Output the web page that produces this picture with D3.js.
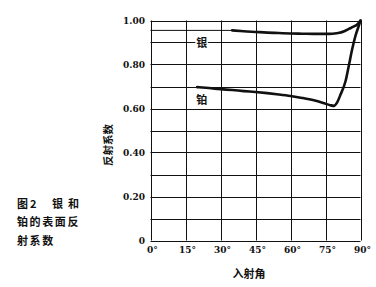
<!DOCTYPE html>
<html>
<head>
<meta charset="utf-8">
<script src="https://cdn.jsdelivr.net/npm/d3@7"></script>
<style>
  body { margin: 0; background: #fff; }
  svg { display: block; }
  .num { font-family: "DejaVu Serif", serif; font-weight: bold; font-size: 9px; fill: #111; }
  .cjk { font-family: "Noto Sans CJK SC", sans-serif; font-weight: bold; fill: #111; }
</style>
</head>
<body>
<svg id="chart" width="376" height="287"></svg>
<script>
// Angle ticks (degrees) and reflection-coefficient ticks
const angleTicks = [0, 15, 30, 45, 60, 75, 90]
const valueTicks = [0, 0.2, 0.4, 0.6, 0.8, 1.0]
const gridValues = [0.1, 0.2, 0.3, 0.4, 0.5, 0.6, 0.7, 0.8, 0.9]

// Silver (银): thin lead-in from 0° then the measured curve
const silverAngles = [0, 35, 40, 45, 50, 55, 60, 65, 70, 75, 78, 81, 83, 85, 87, 88.6, 90]
const silverValues = [0.955, 0.955, 0.951, 0.948, 0.945, 0.943, 0.941, 0.94, 0.939, 0.939, 0.94, 0.944, 0.951, 0.962, 0.972, 0.982, 1.0]

// Platinum (铂)
const platinumAngles = [20, 25, 30, 35, 40, 45, 50, 55, 60, 65, 70, 74, 77, 78.6, 80, 81.4, 83.6, 85, 86.4, 87.9, 89.3, 90]
const platinumValues = [0.697, 0.693, 0.688, 0.684, 0.679, 0.675, 0.67, 0.664, 0.657, 0.648, 0.637, 0.625, 0.615, 0.612, 0.628, 0.662, 0.725, 0.795, 0.868, 0.932, 0.977, 1.0]

// Caption rows
const captionRows = ["图2银和", "铂的表面反", "射系数"]

let svg = d3.select("#chart")

let x = d3.scaleLinear().domain([0, 90]).range([150.5, 360.5])
let y = d3.scaleLinear().domain([0, 1]).range([240.5, 20.5])

// Grid
let grid = svg.append("g")
  .attr("stroke", "#111")
  .attr("stroke-width", 1)
  .attr("fill", "none")

grid.selectAll("line.h")
  .data(gridValues.concat([0, 1]))
  .join("line")
  .attr("class", "h")
  .attr("x1", x(0)).attr("x2", x(90))
  .attr("y1", d => Math.round(y(d)) + 0.5)
  .attr("y2", d => Math.round(y(d)) + 0.5)

grid.selectAll("line.v")
  .data(angleTicks)
  .join("line")
  .attr("class", "v")
  .attr("y1", y(0)).attr("y2", y(1))
  .attr("x1", d => Math.round(x(d)) + 0.5)
  .attr("x2", d => Math.round(x(d)) + 0.5)

// Curves
let line = d3.line()
  .x(d => x(d[0]))
  .y(d => y(d[1]))
  .curve(d3.curveMonotoneX)

let silver = silverAngles.map((a, i) => [a, silverValues[i]])
let platinum = platinumAngles.map((a, i) => [a, platinumValues[i]])

svg.append("path")
  .datum(silver.filter(d => d[0] <= 35))
  .attr("d", line)
  .attr("fill", "none")
  .attr("stroke", "#111")
  .attr("stroke-width", 1)

svg.selectAll("path.curve")
  .data([silver.filter(d => d[0] >= 35), platinum])
  .join("path")
  .attr("class", "curve")
  .attr("d", line)
  .attr("fill", "none")
  .attr("stroke", "#111")
  .attr("stroke-width", 2.6)
  .attr("stroke-linejoin", "round")
  .attr("stroke-linecap", "round")

// Series labels
svg.selectAll("text.series")
  .data([["银", 0.9], ["铂", 0.64]])
  .join("text")
  .attr("class", "series cjk")
  .attr("x", x(22))
  .attr("y", d => y(d[1]) + 4)
  .attr("text-anchor", "middle")
  .attr("font-size", 11)
  .attr("stroke", "#fff")
  .attr("stroke-width", 3)
  .attr("paint-order", "stroke")
  .text(d => d[0])

// Y tick labels
svg.selectAll("text.ytick")
  .data(valueTicks)
  .join("text")
  .attr("class", "ytick num")
  .attr("x", 145)
  .attr("y", d => y(d) + 3)
  .attr("text-anchor", "end")
  .text(d => d === 0 ? "0" : d3.format(".2f")(d))

// X tick labels
svg.selectAll("text.xtick")
  .data(angleTicks)
  .join("text")
  .attr("class", "xtick num")
  .attr("x", d => x(d) + 2)
  .attr("y", 253)
  .attr("text-anchor", "middle")
  .text(d => d + "°")

// Axis titles
svg.append("text")
  .attr("class", "cjk")
  .attr("x", 249)
  .attr("y", 278)
  .attr("text-anchor", "middle")
  .attr("font-size", 11)
  .text("入射角")

svg.append("text")
  .attr("class", "cjk")
  .attr("transform", "translate(112,145) rotate(-90)")
  .attr("text-anchor", "middle")
  .attr("font-size", 10.5)
  .text("反射系数")

// Caption, laid out glyph by glyph (first row is spaced out)
const firstRowOffsets = [0, 13, 35, 51]

svg.append("g")
  .attr("class", "cjk")
  .attr("font-size", 11)
  .selectAll("g.row")
  .data(captionRows)
  .join("g")
  .attr("class", "row")
  .attr("transform", (d, i) => `translate(17,${208 + i * 18.3})`)
  .selectAll("text")
  .data((d, i) => Array.from(d).map((c, j) => ({ c, dx: i === 0 ? firstRowOffsets[j] : j * 12.6 })))
  .join("text")
  .attr("x", d => d.dx)
  .text(d => d.c)
</script>
</body>
</html>
